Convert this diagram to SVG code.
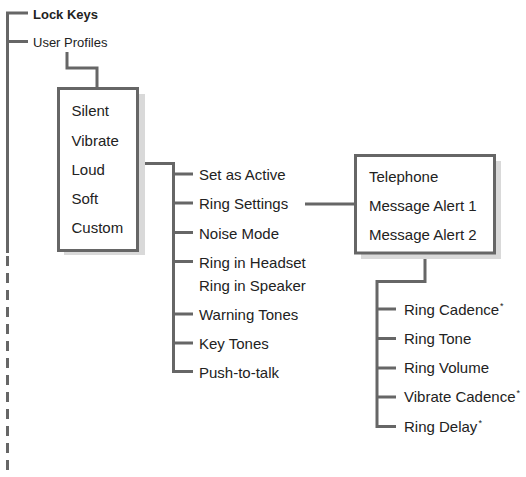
<svg xmlns="http://www.w3.org/2000/svg" width="526" height="477" viewBox="0 0 526 477">
<style>
.ln{fill:none;stroke:#666;stroke-width:3}
.box{fill:#fff;stroke:#666;stroke-width:3}
.sh{fill:#d9d9d9}
text{font-family:"Liberation Sans",Arial,sans-serif;font-size:15px;fill:#222}
.sm{font-size:13px}
.b{font-weight:bold}
.ast{font-size:9px}
</style>
<rect width="526" height="477" fill="#fff"/>
<g id="connectors">
<path class="ln" d="M7.5 253V13H28"/>
<path class="ln" d="M7.5 256V477" stroke-dasharray="10 7"/>
<path class="ln" d="M7.5 41.5H28"/>
<path class="ln" d="M67 52V68H97V88"/>
<path class="ln" d="M137.5 163.5H173.5V371.5H193"/>
<path class="ln" d="M173.5 174H193M173.5 203H193M173.5 232.5H193M173.5 261.5H193M173.5 314H193M173.5 343H193"/>
<path class="ln" d="M305 204H355"/>
<path class="ln" d="M425 253V281.5H377V426.5H396"/>
<path class="ln" d="M377 309H396M377 338.5H396M377 368H396M377 397H396"/>
</g>
<g id="lock-keys"><text class="sm b" x="33" y="18.5">Lock Keys</text></g>
<g id="user-profiles"><text class="sm" x="33" y="46.5">User Profiles</text></g>
<g id="profiles-box">
<rect class="sh" x="64" y="94" width="81" height="161"/>
<rect class="box" x="58.5" y="88.5" width="79" height="162"/>
<text x="71.5" y="116">Silent</text>
<text x="71.5" y="145.5">Vibrate</text>
<text x="71.5" y="175">Loud</text>
<text x="71.5" y="204">Soft</text>
<text x="71.5" y="233">Custom</text>
</g>
<g id="set-as-active"><text x="199" y="179.5">Set as Active</text></g>
<g id="ring-settings"><text x="199" y="209">Ring Settings</text></g>
<g id="noise-mode"><text x="199" y="238.5">Noise Mode</text></g>
<g id="ring-in-headset"><text x="199" y="267.5">Ring in Headset</text>
<text x="199" y="290.5">Ring in Speaker</text></g>
<g id="warning-tones"><text x="199" y="319.5">Warning Tones</text></g>
<g id="key-tones"><text x="199" y="348.5">Key Tones</text></g>
<g id="push-to-talk"><text x="199" y="377.5">Push-to-talk</text></g>
<g id="alert-box">
<rect class="sh" x="361" y="161" width="140" height="98"/>
<rect class="box" x="355.5" y="155.5" width="139" height="97.5"/>
<text x="369" y="181.5">Telephone</text>
<text x="369" y="210.5">Message Alert 1</text>
<text x="369" y="240">Message Alert 2</text>
</g>
<g id="ring-cadence"><text x="404" y="314.5">Ring Cadence<tspan class="ast" dx="1" dy="-6">*</tspan></text></g>
<g id="ring-tone"><text x="404" y="343.5">Ring Tone</text></g>
<g id="ring-volume"><text x="404" y="373">Ring Volume</text></g>
<g id="vibrate-cadence"><text x="404" y="402">Vibrate Cadence<tspan class="ast" dx="1" dy="-6">*</tspan></text></g>
<g id="ring-delay"><text x="404" y="431.5">Ring Delay<tspan class="ast" dx="1" dy="-6">*</tspan></text></g>
</svg>
